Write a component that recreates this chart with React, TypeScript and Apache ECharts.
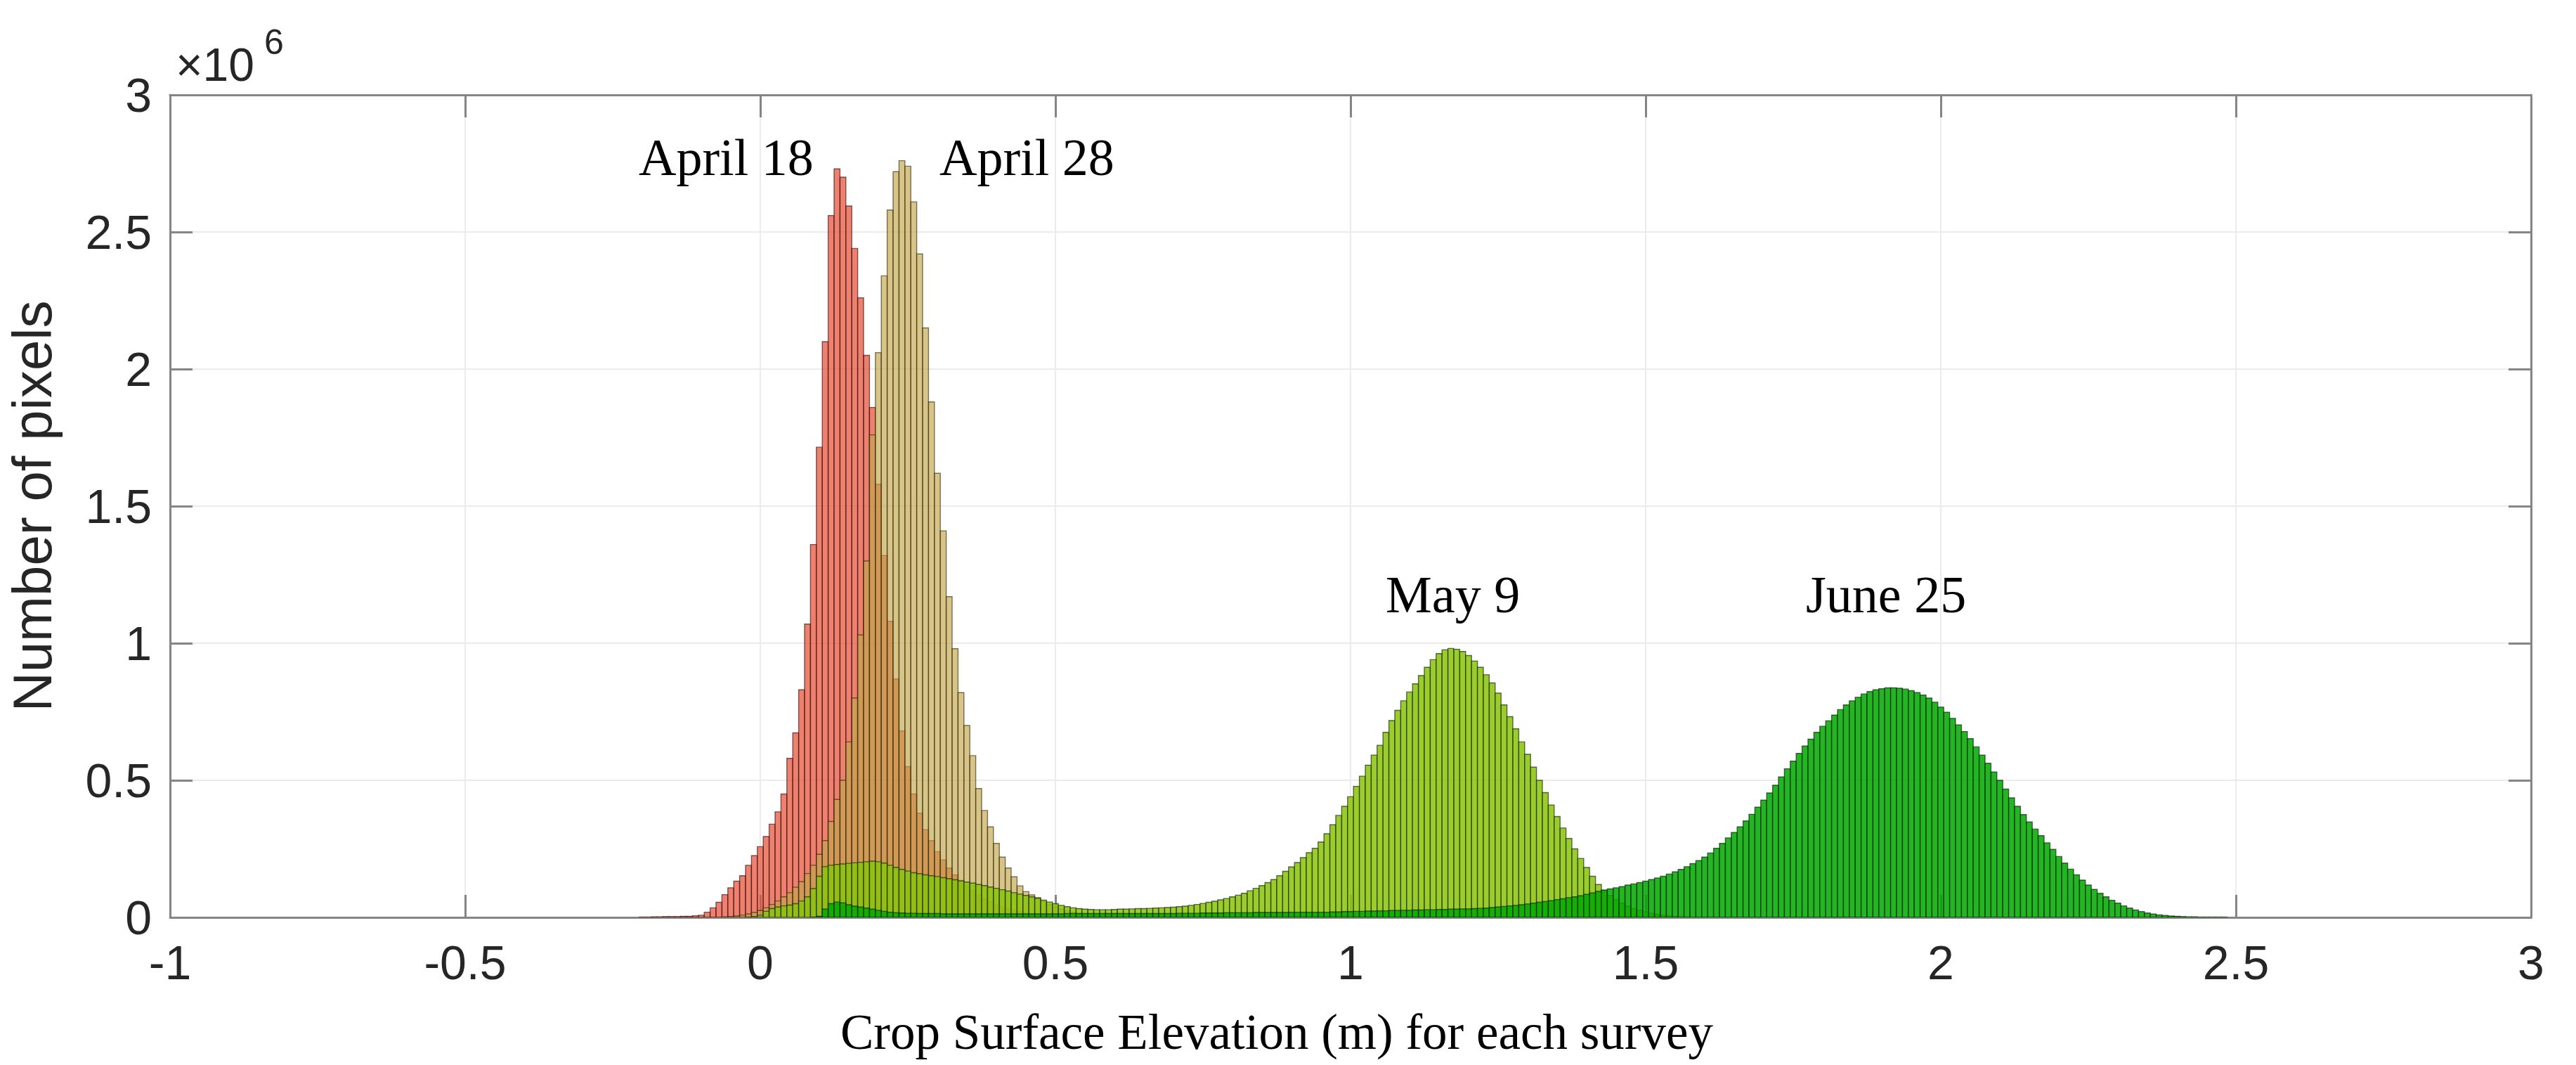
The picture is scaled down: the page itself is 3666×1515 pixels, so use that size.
import React, { useEffect, useRef } from "react";
import * as echarts from "echarts";

// Histogram bin width (m)
const BIN_WIDTH = 0.01;

// Axis ranges / ticks
const X_MIN = -1;
const X_MAX = 3;
const X_STEP = 0.5;
const Y_MIN = 0;
const Y_MAX = 3;
const Y_STEP = 0.5;

// Survey names
const SURVEYS = ["April 18", "April 28", "May 9", "June 25"];

// Pixel counts per bin, in millions of pixels (bin centres start at *Start, step BIN_WIDTH)
const april18Start = -0.2;
const april18 = [
  0.001, 0.001, 0.002, 0.002, 0.003, 0.003, 0.003, 0.004, 0.004, 0.006,
  0.008, 0.019, 0.035, 0.055, 0.083, 0.108, 0.132, 0.152, 0.19, 0.225,
  0.258, 0.295, 0.34, 0.385, 0.45, 0.58, 0.673, 0.83, 1.07, 1.36,
  1.715, 2.1, 2.56, 2.73, 2.7, 2.595, 2.44, 2.26, 2.05, 1.86,
  1.58, 1.32, 1.08, 0.87, 0.68, 0.55, 0.45, 0.38, 0.32, 0.28,
  0.24, 0.21, 0.18, 0.155, 0.135, 0.115, 0.097, 0.082, 0.068, 0.057,
  0.047, 0.039, 0.032, 0.026, 0.021, 0.017, 0.013, 0.01, 0.008, 0.006,
  0.004, 0.003, 0.002, 0.001,
];

const april28Start = -0.06;
const april28 = [
  0.002, 0.003, 0.005, 0.008, 0.012, 0.018, 0.025, 0.035, 0.047, 0.06,
  0.075, 0.09, 0.11, 0.13, 0.16, 0.19, 0.23, 0.28, 0.35, 0.43,
  0.5, 0.64, 0.8, 1.03, 1.3, 1.76, 2.06, 2.34, 2.58, 2.72,
  2.76, 2.74, 2.61, 2.42, 2.15, 1.88, 1.62, 1.41, 1.17, 0.98,
  0.82, 0.7, 0.59, 0.47, 0.39, 0.33, 0.27, 0.22, 0.18, 0.148,
  0.115, 0.094, 0.082, 0.072, 0.058, 0.046, 0.037, 0.03, 0.024, 0.019,
  0.015, 0.012, 0.009, 0.007, 0.005, 0.004, 0.003, 0.002, 0.001,
];

const may9Start = -0.02;
const may9 = [
  0.001, 0.003, 0.008, 0.022, 0.032, 0.038, 0.042, 0.045, 0.05, 0.06,
  0.075, 0.105, 0.15, 0.185, 0.19, 0.193, 0.195, 0.197, 0.199, 0.201,
  0.203, 0.205, 0.203, 0.198, 0.19, 0.182, 0.175, 0.169, 0.163, 0.159,
  0.155, 0.152, 0.149, 0.145, 0.141, 0.137, 0.133, 0.129, 0.125, 0.12,
  0.116, 0.111, 0.106, 0.101, 0.096, 0.09, 0.085, 0.08, 0.075, 0.07,
  0.063, 0.056, 0.05, 0.044, 0.039, 0.035, 0.032, 0.03, 0.029, 0.028,
  0.028, 0.028, 0.029, 0.03, 0.03, 0.031, 0.032, 0.032, 0.033, 0.034,
  0.035, 0.036, 0.037, 0.039, 0.041, 0.044, 0.047, 0.051, 0.055, 0.059,
  0.064, 0.069, 0.075, 0.081, 0.088, 0.097, 0.106, 0.116, 0.127, 0.138,
  0.152, 0.168, 0.184, 0.2, 0.218, 0.236, 0.252, 0.275, 0.305, 0.338,
  0.372, 0.405, 0.44, 0.478, 0.515, 0.555, 0.592, 0.628, 0.675, 0.718,
  0.755, 0.79, 0.822, 0.852, 0.882, 0.912, 0.94, 0.962, 0.976, 0.981,
  0.978, 0.97, 0.955, 0.935, 0.912, 0.885, 0.855, 0.818, 0.775, 0.732,
  0.688, 0.64, 0.595, 0.548, 0.5, 0.455, 0.41, 0.368, 0.326, 0.288,
  0.25, 0.215, 0.182, 0.15, 0.12, 0.098, 0.08, 0.065, 0.052, 0.041,
  0.033, 0.026, 0.02, 0.015, 0.011, 0.008, 0.005, 0.003, 0.002, 0.001,
];

const june25Start = 0.09;
const june25 = [
  0.001, 0.004, 0.03, 0.05, 0.056, 0.053, 0.046, 0.041, 0.038, 0.034,
  0.03, 0.026, 0.022, 0.019, 0.017, 0.016, 0.015, 0.015, 0.014, 0.014,
  0.014, 0.014, 0.013, 0.013, 0.013, 0.013, 0.013, 0.013, 0.013, 0.013,
  0.013, 0.013, 0.013, 0.013, 0.013, 0.013, 0.013, 0.013, 0.013, 0.013,
  0.013, 0.013, 0.013, 0.014, 0.014, 0.014, 0.014, 0.014, 0.014, 0.014,
  0.014, 0.014, 0.014, 0.014, 0.014, 0.014, 0.014, 0.014, 0.014, 0.014,
  0.014, 0.014, 0.015, 0.015, 0.015, 0.015, 0.016, 0.016, 0.016, 0.016,
  0.017, 0.017, 0.017, 0.017, 0.017, 0.018, 0.018, 0.018, 0.018, 0.018,
  0.018, 0.019, 0.019, 0.019, 0.019, 0.019, 0.019, 0.019, 0.02, 0.02,
  0.021, 0.021, 0.022, 0.022, 0.023, 0.023, 0.024, 0.024, 0.025, 0.025,
  0.026, 0.026, 0.027, 0.027, 0.028, 0.028, 0.029, 0.029, 0.03, 0.03,
  0.031, 0.031, 0.032, 0.033, 0.034, 0.036, 0.038, 0.04, 0.042, 0.044,
  0.046, 0.049, 0.052, 0.055, 0.058, 0.061, 0.065, 0.068, 0.072, 0.075,
  0.079, 0.084, 0.089, 0.095, 0.1, 0.104, 0.108, 0.112, 0.118, 0.122,
  0.127, 0.132, 0.138, 0.144, 0.15, 0.158, 0.166, 0.175, 0.185, 0.196,
  0.207, 0.22, 0.235, 0.252, 0.27, 0.29, 0.31, 0.33, 0.352, 0.376,
  0.402, 0.428, 0.454, 0.482, 0.512, 0.542, 0.57, 0.598, 0.625, 0.65,
  0.675, 0.697, 0.717, 0.738, 0.758, 0.775, 0.79, 0.803, 0.815, 0.824,
  0.83, 0.834, 0.837, 0.837, 0.836, 0.833, 0.827, 0.82, 0.811, 0.8,
  0.785, 0.767, 0.748, 0.726, 0.702, 0.678, 0.652, 0.622, 0.592, 0.562,
  0.53, 0.5, 0.468, 0.436, 0.405, 0.375, 0.348, 0.322, 0.298, 0.272,
  0.248, 0.222, 0.198, 0.176, 0.155, 0.136, 0.118, 0.102, 0.088, 0.075,
  0.062, 0.052, 0.042, 0.034, 0.027, 0.021, 0.016, 0.012, 0.009, 0.007,
  0.005, 0.004, 0.003, 0.002, 0.002, 0.001, 0.001, 0.001, 0.001, 0.001,
];

const SERIES_STARTS = [april18Start, april28Start, may9Start, june25Start];
const SERIES_VALUES = [april18, april28, may9, june25];

const FILLS = [
  "rgba(230,80,55,0.72)",
  "rgba(195,165,75,0.66)",
  "rgba(140,195,10,0.86)",
  "rgba(0,168,0,0.86)",
];
const STROKES = [
  "rgba(50,0,0,0.6)",
  "rgba(45,35,0,0.6)",
  "rgba(10,40,0,0.65)",
  "rgba(0,35,0,0.65)",
];

// Annotation label positions (pixels)
const LABEL_POS = [
  [909, 224],
  [1337, 224],
  [1972, 846],
  [2570, 846],
];

const SANS = '"Liberation Sans", Arial, Helvetica, sans-serif';
const SERIF = '"Liberation Serif", "Times New Roman", Times, serif';

function toBins(start: number, values: number[]) {
  return values.map((v, i) => [Number((start + i * BIN_WIDTH).toFixed(4)), v]);
}

function makeRender(fill: string, stroke: string) {
  return (params: any, api: any) => {
    const x = api.value(0);
    const y = api.value(1);
    const a = api.coord([x - BIN_WIDTH / 2, y]);
    const b = api.coord([x + BIN_WIDTH / 2, 0]);
    return {
      type: "rect",
      shape: { x: a[0], y: a[1], width: b[0] - a[0], height: b[1] - a[1] },
      style: { fill, stroke, lineWidth: 1.4 },
    };
  };
}

export default function App() {
  const ref = useRef<HTMLDivElement>(null);

  useEffect(() => {
    if (!ref.current) return;
    const chart = echarts.init(ref.current, null, { renderer: "svg" });

    const axisColor = "#858585";
    const gridColor = "#ebebeb";

    const series = SERIES_VALUES.map((vals, i) => ({
      type: "custom",
      name: SURVEYS[i],
      xAxisIndex: 0,
      yAxisIndex: 0,
      silent: true,
      clip: true,
      renderItem: makeRender(FILLS[i], STROKES[i]),
      encode: { x: 0, y: 1 },
      data: toBins(SERIES_STARTS[i], vals),
      z: 2 + i,
    }));

    const option: any = {
      animation: false,
      backgroundColor: "#ffffff",
      grid: { left: 242, right: 64, top: 135, bottom: 210 },
      xAxis: [
        {
          type: "value",
          min: X_MIN,
          max: X_MAX,
          interval: X_STEP,
          position: "bottom",
          axisLine: { show: true, onZero: false, lineStyle: { color: axisColor, width: 3 } },
          axisTick: { show: true, inside: true, length: 32, lineStyle: { color: axisColor, width: 3 } },
          axisLabel: { fontSize: 68, color: "#262626", fontFamily: SANS, margin: 30 },
          splitLine: { show: true, lineStyle: { color: gridColor, width: 2 } },
        },
        {
          type: "value",
          min: X_MIN,
          max: X_MAX,
          interval: X_STEP,
          position: "top",
          axisLine: { show: true, onZero: false, lineStyle: { color: axisColor, width: 3 } },
          axisTick: { show: true, inside: true, length: 32, lineStyle: { color: axisColor, width: 3 } },
          axisLabel: { show: false },
          splitLine: { show: false },
        },
      ],
      yAxis: [
        {
          type: "value",
          min: Y_MIN,
          max: Y_MAX,
          interval: Y_STEP,
          position: "left",
          axisLine: { show: true, onZero: false, lineStyle: { color: axisColor, width: 3 } },
          axisTick: { show: true, inside: true, length: 32, lineStyle: { color: axisColor, width: 3 } },
          axisLabel: { fontSize: 68, color: "#262626", fontFamily: SANS, margin: 26 },
          splitLine: { show: true, lineStyle: { color: gridColor, width: 2 } },
        },
        {
          type: "value",
          min: Y_MIN,
          max: Y_MAX,
          interval: Y_STEP,
          position: "right",
          axisLine: { show: true, onZero: false, lineStyle: { color: axisColor, width: 3 } },
          axisTick: { show: true, inside: true, length: 32, lineStyle: { color: axisColor, width: 3 } },
          axisLabel: { show: false },
          splitLine: { show: false },
        },
      ],
      series,
      graphic: [
        {
          type: "text",
          x: 250,
          y: 92,
          style: {
            text: "×10",
            fontSize: 66,
            fontFamily: SANS,
            fill: "#262626",
            verticalAlign: "middle",
            align: "left",
          },
        },
        {
          type: "text",
          x: 376,
          y: 60,
          style: {
            text: "6",
            fontSize: 50,
            fontFamily: SANS,
            fill: "#262626",
            verticalAlign: "middle",
            align: "left",
          },
        },
        {
          type: "text",
          x: 46,
          y: 720,
          rotation: Math.PI / 2,
          style: {
            text: "Number of pixels",
            fontSize: 78,
            fontFamily: SANS,
            fill: "#262626",
            verticalAlign: "middle",
            align: "center",
          },
        },
        {
          type: "text",
          x: 1817,
          y: 1468,
          style: {
            text: "Crop Surface Elevation (m) for each survey",
            fontSize: 71,
            fontFamily: SERIF,
            fill: "#000000",
            verticalAlign: "middle",
            align: "center",
          },
        },
        ...SURVEYS.map((name, i) => ({
          type: "text",
          x: LABEL_POS[i][0],
          y: LABEL_POS[i][1],
          z: 100,
          style: {
            text: name,
            fontSize: 74,
            fontFamily: SERIF,
            fill: "#000000",
            verticalAlign: "middle",
            align: "left",
          },
        })),
      ],
    };

    chart.setOption(option);
    return () => {
      chart.dispose();
    };
  }, []);

  return (
    <div
      ref={ref}
      style={{
        position: "fixed",
        left: 0,
        top: 0,
        width: 3666,
        height: 1515,
        background: "#ffffff",
      }}
    />
  );
}
